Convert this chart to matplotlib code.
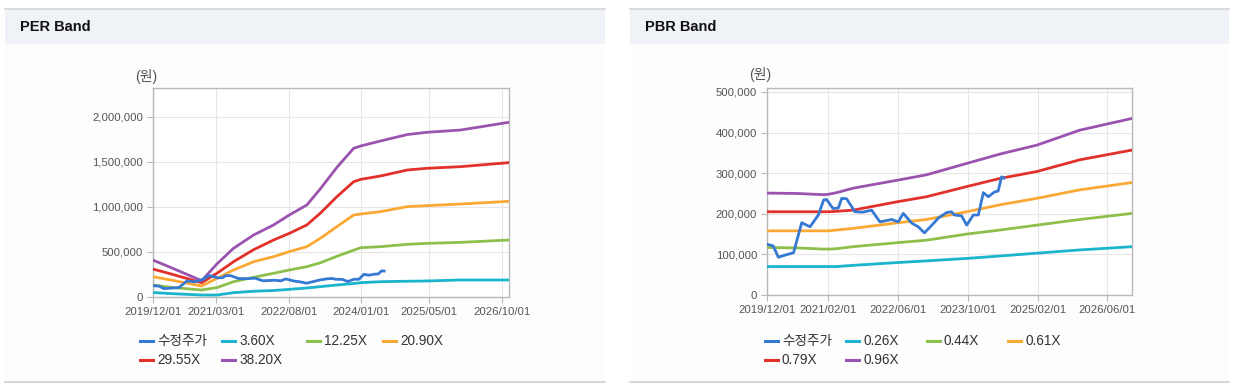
import numpy as np
import matplotlib
matplotlib.use('Agg')
import matplotlib.pyplot as plt
from matplotlib.patches import Rectangle
from matplotlib.lines import Line2D
from matplotlib.ticker import FuncFormatter

plt.rcParams['font.family'] = ['Liberation Sans', 'Noto Sans CJK KR', 'DejaVu Sans']

W, H = 1237, 389

# 수정주가 (adjusted price, thousand won) - shared by both charts
price_dates = ['2019-12-01', '2020-01-15', '2020-02-20', '2020-04-05', '2020-06-05', '2020-08-01',
               '2020-09-28', '2020-11-25', '2021-01-01', '2021-01-22', '2021-03-07', '2021-04-13',
               '2021-05-07', '2021-06-10', '2021-08-07', '2021-10-01', '2021-12-01', '2022-01-28',
               '2022-04-20', '2022-06-04', '2022-07-10', '2022-09-07', '2022-10-22', '2022-12-04',
               '2023-01-25', '2023-03-10', '2023-05-07', '2023-06-10', '2023-07-01', '2023-08-20',
               '2023-09-25', '2023-11-10', '2023-12-15', '2024-01-19', '2024-02-22', '2024-04-07',
               '2024-05-01', '2024-05-25', '2024-06-12']
price = [125, 121, 93, 98, 104, 178, 168, 197, 234, 235, 213, 214, 238, 237, 205, 204, 209, 180,
         186, 180, 201, 177, 168, 153, 172, 189, 203, 205, 197, 195, 172, 197, 197, 252, 242, 254,
         256, 291, 288]

# PER band (thousand won)
per_dates = ['2019-12-01', '2020-04-05', '2020-11-15', '2021-03-04', '2021-07-01', '2021-11-22',
             '2022-04-13', '2022-08-04', '2022-12-07', '2023-03-13', '2023-07-10', '2023-11-07',
             '2023-12-28', '2024-05-16', '2024-11-25', '2025-04-16', '2025-12-10', '2026-11-22']
per_labels = ['3.60X', '12.25X', '20.90X', '29.55X', '38.20X']
per_360 = [50, 38, 22, 22, 48, 64, 72, 85, 100, 115, 133, 150, 159, 170, 175, 178, 189, 189]
per_1225 = [135, 108, 78, 104, 170, 219, 263, 300, 337, 380, 452, 520, 548, 559, 585, 596, 607, 633]
per_2090 = [226, 190, 122, 207, 300, 392, 448, 504, 559, 652, 781, 911, 922, 948, 1004, 1015, 1033, 1063]
per_2955 = [311, 258, 159, 263, 392, 526, 633, 707, 800, 930, 1114, 1281, 1307, 1344, 1411, 1430, 1448, 1493]
per_3820 = [411, 330, 181, 367, 541, 689, 800, 911, 1022, 1200, 1440, 1652, 1678, 1733, 1805, 1830, 1855, 1941]
per_ticks = ['2019-12-01', '2021-03-01', '2022-08-01', '2024-01-01', '2025-05-01', '2026-10-01']

# PBR band (thousand won)
pbr_dates = ['2019-12-01', '2020-06-28', '2021-01-01', '2021-02-03', '2021-04-01', '2021-07-25',
             '2022-06-04', '2022-12-19', '2023-09-25', '2024-05-13', '2025-01-25', '2025-11-22',
             '2026-11-22']
pbr_labels = ['0.26X', '0.44X', '0.61X', '0.79X', '0.96X']
pbr_026 = [70, 70, 70, 70, 70, 73, 80, 84, 90, 96, 103, 111, 119]
pbr_044 = [117, 116, 113, 113, 114, 119, 129, 135, 150, 160, 172, 186, 201]
pbr_061 = [158, 158, 158, 158, 160, 164, 178, 186, 205, 222, 238, 259, 277]
pbr_079 = [205, 205, 205, 205, 206, 209, 230, 242, 267, 287, 304, 333, 357]
pbr_096 = [251, 250, 247, 248, 252, 263, 283, 296, 324, 347, 369, 406, 435]
pbr_ticks = ['2019-12-01', '2021-02-01', '2022-06-01', '2023-10-01', '2025-02-01', '2026-06-01']

colors = ['#3579d3', '#1bb4cd', '#8dbf4b', '#fba935', '#e2302a', '#9a53ae']


def fx(x):
    return x / W


def fy(y):
    return 1 - y / H


def d(lst):
    return np.array(lst, dtype='datetime64[D]')


fig = plt.figure(figsize=(W / 100, H / 100), dpi=100)
fig.patch.set_facecolor('white')

# panel frames
for x0, x1, title in [(5, 605, 'PER Band'), (630, 1229, 'PBR Band')]:
    fig.patches.append(Rectangle((fx(x0), fy(381)), fx(x1 - x0), (381 - 44) / H,
                                 transform=fig.transFigure, facecolor='#fdfdfd', edgecolor='none', zorder=-2))
    fig.patches.append(Rectangle((fx(x0), fy(44)), fx(x1 - x0), 36 / H,
                                 transform=fig.transFigure, facecolor='#eff2f7', edgecolor='none', zorder=-2))
    fig.add_artist(Line2D([fx(x0), fx(x1)], [fy(8.5), fy(8.5)], transform=fig.transFigure,
                          color='#d6d6d6', lw=1.2))
    fig.add_artist(Line2D([fx(x0), fx(x1)], [fy(381.5), fy(381.5)], transform=fig.transFigure,
                          color='#cfcfcf', lw=1.2))
    fig.text(fx(x0 + 15), fy(27), title, fontsize=10.5, fontweight='bold', color='#111111',
             va='center', ha='left')


def draw_chart(rect, band_dates, bands, labels, ticks, ylim, yticks, unit_xy, leg_cols):
    ax = fig.add_axes(rect)
    ax.set_facecolor('white')
    lines = []
    l, = ax.plot(d(price_dates), np.array(price) * 1000, color=colors[0], lw=2.0, zorder=4)
    lines.append((l, '수정주가'))
    for i, vals in enumerate(bands):
        l, = ax.plot(d(band_dates), np.array(vals) * 1000, color=colors[i + 1], lw=2.0, zorder=3)
        lines.append((l, labels[i]))
    ax.set_xlim(d(['2019-12-01'])[0], d(['2026-11-22'])[0])
    ax.set_ylim(*ylim)
    ax.set_yticks(yticks)
    ax.yaxis.set_major_formatter(FuncFormatter(lambda v, p: f'{v:,.0f}'))
    ax.set_xticks(d(ticks))
    ax.set_xticklabels([t.replace('-', '/') for t in ticks])
    ax.grid(True, color='#e6e6e6', lw=0.8)
    ax.set_axisbelow(True)
    for s in ax.spines.values():
        s.set_color('#b8b8b8')
        s.set_linewidth(1.0)
    ax.tick_params(axis='both', length=4, color='#b8b8b8', labelsize=8.2, labelcolor='#555555', pad=3)
    fig.text(fx(unit_xy[0]), fy(unit_xy[1]), '(원)', fontsize=10, color='#555555',
             ha='center', va='center')
    # legend, two rows of four
    rows = [341, 359.5]
    for i, (ln, lab) in enumerate(lines):
        x0 = leg_cols[i % 4]
        y = rows[i // 4]
        fig.add_artist(Line2D([fx(x0), fx(x0 + 13)], [fy(y), fy(y)], transform=fig.transFigure,
                              color=ln.get_color(), lw=2.2))
        fig.text(fx(x0 + 17), fy(y), lab, fontsize=9.8, color='#333333', ha='left', va='center')
    return ax


draw_chart([fx(152.7), fy(297), (509 - 152.7) / W, (297 - 88) / H],
           per_dates, [per_360, per_1225, per_2090, per_2955, per_3820], per_labels, per_ticks,
           (0, 2322000), [0, 500000, 1000000, 1500000, 2000000], (146, 76.5),
           [140, 222, 307, 383])

draw_chart([fx(766.7), fy(295), (1132.3 - 766.7) / W, (295 - 88.3) / H],
           pbr_dates, [pbr_026, pbr_044, pbr_061, pbr_079, pbr_096], pbr_labels, pbr_ticks,
           (0, 509000), [0, 100000, 200000, 300000, 400000, 500000], (760, 75),
           [765, 846, 927, 1008])

fig.savefig('out.png', dpi=100)
